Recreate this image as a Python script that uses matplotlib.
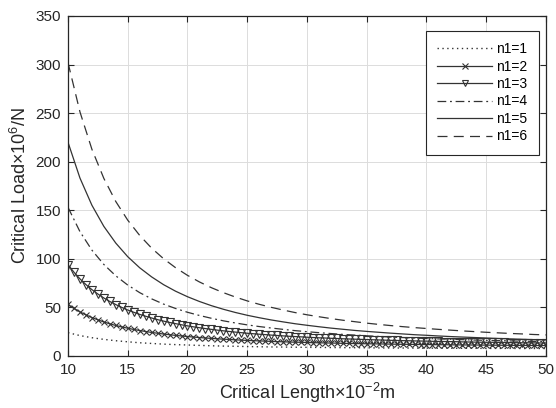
import numpy as np
import matplotlib
matplotlib.use("Agg")
import matplotlib.pyplot as plt

plt.rcParams['font.family'] = ['Liberation Sans', 'DejaVu Sans']
plt.rcParams['mathtext.fontset'] = 'custom'
plt.rcParams['mathtext.rm'] = 'Liberation Sans'
plt.rcParams['mathtext.it'] = 'Liberation Sans:italic'

# critical length (x 10^-2 m)
L_line = np.arange(10, 51, 1.0)
L_mark = np.arange(10, 50.5, 0.5)

# critical load (x 10^6 N)
n1_1 = [24.0, 21.0, 18.8, 17.1, 15.7, 14.6, 13.6, 12.9, 12.2, 11.7, 11.3, 10.9, 10.5, 10.2,
        10.0, 9.7, 9.5, 9.3, 9.2, 9.0, 8.9, 8.8, 8.7, 8.6, 8.5, 8.4, 8.3, 8.2, 8.2, 8.1,
        8.1, 8.0, 8.0, 7.9, 7.9, 7.8, 7.8, 7.8, 7.7, 7.7, 7.7]
n1_2 = [53.0, 48.9, 45.4, 42.3, 39.6, 37.2, 35.0, 33.1, 31.4, 29.9, 28.6, 27.3, 26.2, 25.2,
        24.2, 23.4, 22.6, 21.9, 21.2, 20.6, 20.0, 19.5, 19.0, 18.5, 18.1, 17.7, 17.3, 17.0,
        16.6, 16.3, 16.0, 15.8, 15.5, 15.3, 15.0, 14.8, 14.6, 14.4, 14.2, 14.1, 13.9, 13.7,
        13.6, 13.4, 13.3, 13.2, 13.0, 12.9, 12.8, 12.7, 12.6, 12.5, 12.4, 12.3, 12.2, 12.1,
        12.0, 12.0, 11.9, 11.8, 11.8, 11.7, 11.6, 11.6, 11.5, 11.4, 11.4, 11.3, 11.3, 11.2,
        11.2, 11.1, 11.1, 11.0, 11.0, 10.9, 10.9, 10.9, 10.8, 10.8, 10.8]
n1_3 = [94.0, 86.2, 79.4, 73.5, 68.3, 63.8, 59.7, 56.1, 52.9, 50.0, 47.3, 45.0, 42.8, 40.9,
        39.1, 37.4, 35.9, 34.5, 33.3, 32.1, 31.0, 30.0, 29.1, 28.2, 27.4, 26.6, 25.9, 25.2,
        24.6, 24.0, 23.4, 22.9, 22.4, 22.0, 21.5, 21.1, 20.7, 20.3, 20.0, 19.7, 19.3, 19.0,
        18.7, 18.5, 18.2, 18.0, 17.7, 17.5, 17.3, 17.1, 16.9, 16.7, 16.5, 16.3, 16.1, 16.0,
        15.8, 15.7, 15.5, 15.4, 15.3, 15.1, 15.0, 14.9, 14.8, 14.7, 14.5, 14.4, 14.3, 14.2,
        14.1, 14.1, 14.0, 13.9, 13.8, 13.7, 13.6, 13.6, 13.5, 13.4, 13.4]
n1_4 = [153.0, 128.0, 109.0, 94.2, 82.5, 73.0, 65.2, 58.8, 53.4, 48.9, 45.0, 41.7, 38.8, 36.2,
        34.0, 32.0, 30.3, 28.8, 27.4, 26.1, 25.0, 24.0, 23.1, 22.2, 21.5, 20.8, 20.1, 19.5,
        19.0, 18.5, 18.0, 17.6, 17.2, 16.8, 16.4, 16.1, 15.8, 15.5, 15.2, 15.0, 14.8]
n1_5 = [220.0, 183.2, 155.2, 133.4, 116.2, 102.2, 90.8, 81.4, 73.4, 66.7, 61.0, 56.1, 51.8,
        48.1, 44.8, 41.9, 39.4, 37.1, 35.1, 33.2, 31.6, 30.1, 28.7, 27.5, 26.3, 25.3, 24.4,
        23.5, 22.7, 21.9, 21.3, 20.6, 20.0, 19.5, 19.0, 18.5, 18.0, 17.6, 17.2, 16.8, 16.5]
n1_6 = [302.0, 251.3, 212.8, 182.8, 159.0, 139.8, 124.1, 111.0, 100.1, 90.9, 83.0, 76.2, 70.3,
        65.2, 60.7, 56.7, 53.2, 50.1, 47.3, 44.7, 42.4, 40.4, 38.5, 36.8, 35.3, 33.8, 32.5,
        31.3, 30.2, 29.2, 28.3, 27.4, 26.6, 25.8, 25.1, 24.4, 23.8, 23.2, 22.7, 22.1, 21.7]

col = '#333333'
fig = plt.figure(figsize=(5.56, 4.08), dpi=100)
ax = fig.add_axes([0.1223, 0.1275, 0.8597, 0.8333])

ax.plot(L_line, n1_1, linestyle=(0, (1, 2.5)), color=col, lw=1.0, label='n1=1')
ax.plot(L_mark, n1_2, linestyle='-', color=col, lw=0.9, marker='x', ms=5, mew=0.8, label='n1=2')
ax.plot(L_mark, n1_3, linestyle='-', color=col, lw=0.9, marker='v', ms=6, mew=0.8,
        mfc='none', label='n1=3')
ax.plot(L_line, n1_4, linestyle=(0, (7, 3, 1.5, 3)), color=col, lw=0.9, label='n1=4')
ax.plot(L_line, n1_5, linestyle='-', color=col, lw=0.9, label='n1=5')
ax.plot(L_line, n1_6, linestyle=(0, (8, 5)), color=col, lw=0.9, label='n1=6')

ax.set_xlim(10, 50)
ax.set_ylim(0, 350)
ax.set_xticks(np.arange(10, 51, 5))
ax.set_yticks(np.arange(0, 351, 50))
ax.grid(True, color='#dcdcdc', lw=0.7)
ax.set_axisbelow(True)
ax.tick_params(direction='in', top=True, right=True, length=4, width=0.8,
               labelsize=11, colors='#262626', pad=5)
for s in ax.spines.values():
    s.set_color('#262626')
    s.set_linewidth(0.9)

ax.set_xlabel(r'Critical Length$\times$10$^{-2}$m', fontsize=13, color='#262626', labelpad=3)
ax.set_ylabel(r'Critical Load$\times$10$^{6}$/N', fontsize=13, color='#262626', labelpad=4)

leg = ax.legend(loc='upper right', bbox_to_anchor=(0.985, 0.956), borderaxespad=0,
                fancybox=False, framealpha=1, edgecolor='#262626', fontsize=10,
                handlelength=4.0, numpoints=1, labelspacing=0.25, borderpad=0.8,
                handletextpad=0.3)
leg.get_frame().set_linewidth(0.8)
for h in leg.legend_handles:
    h.set_markersize(4)

fig.savefig('out.png', dpi=100)
